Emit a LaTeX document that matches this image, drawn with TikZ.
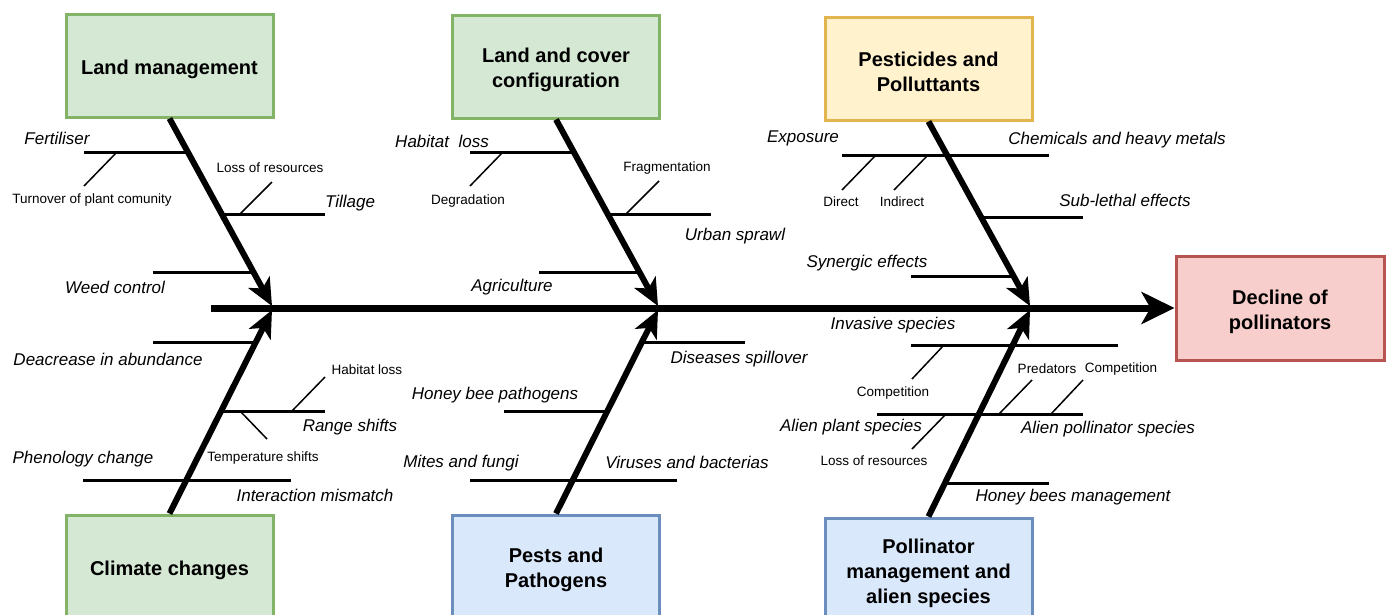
\documentclass[tikz,border=0pt]{standalone}
\usepackage{fontspec}
\setmainfont{Liberation Sans}
\usetikzlibrary{arrows.meta}
\definecolor{gfill}{HTML}{D5E8D4}
\definecolor{gline}{HTML}{82B366}
\definecolor{yfill}{HTML}{FFF2CC}
\definecolor{yline}{HTML}{E3B54E}
\definecolor{bfill}{HTML}{DAE8FC}
\definecolor{bline}{HTML}{6C8EBF}
\definecolor{rfill}{HTML}{F8CECC}
\definecolor{rline}{HTML}{B85450}
\begin{document}
\begin{tikzpicture}[x=1pt,y=-1pt,
  cause/.style={draw, line width=3pt, minimum width=207pt, minimum height=103pt, inner sep=0pt},
  ctext/.style={inner sep=0pt, align=center, font=\fontsize{20}{25}\selectfont\bfseries},
  lab/.style={inner sep=0pt, font=\fontsize{17}{20}\selectfont\itshape},
  sml/.style={inner sep=0pt, font=\fontsize{13.5}{16}\selectfont},
  br/.style={line width=3pt},
  tw/.style={line width=1.5pt},
  bone/.style={line width=6pt, -{Stealth[length=27pt, width=24pt, inset=7pt]}},
  spine/.style={line width=7pt, -{Stealth[length=33pt, width=32pt, inset=9pt]}}]
\useasboundingbox (0,0) rectangle (1392,614);
\clip (0,0) rectangle (1392,614);
\fill[white] (0,0) rectangle (1392,614);

% boxes
\node[cause, fill=gfill, draw=gline] (lm) at (169.5,65.5) {};
\node[cause, fill=gfill, draw=gline] (lc) at (556,66.5) {};
\node[cause, fill=yfill, draw=yline] (pp) at (928.5,68.5) {};
\node[cause, fill=gfill, draw=gline] (cc) at (169.5,566.5) {};
\node[cause, fill=bfill, draw=bline] (pa) at (556,566.5) {};
\node[cause, fill=bfill, draw=bline] (pm) at (928.5,569.5) {};
\node[cause, fill=rfill, draw=rline, minimum width=208pt, minimum height=104pt] (dec) at (1280,308) {};
\node[ctext] (lmt) at ([yshift=-3.5pt]lm.center) {Land management};
\node[ctext] (lct) at ([yshift=-3.5pt]lc.center) {Land and cover\\configuration};
\node[ctext] (ppt) at ([yshift=-3.5pt]pp.center) {Pesticides and\\Polluttants};
\node[ctext] (cct) at ([yshift=-3.5pt]cc.center) {Climate changes};
\node[ctext] (pat) at ([yshift=-3.5pt]pa.center) {Pests and\\Pathogens};
\node[ctext] (pmt) at ([yshift=-3.5pt]pm.center) {Pollinator\\management and\\alien species};
\node[ctext] (dect) at ([yshift=-3.5pt]dec.center) {Decline of\\pollinators};

% spine
\coordinate (s0) at (211,308);
\draw[spine] (s0) -- (dec.west);

% bone tips
\coordinate (tA) at (272,306);
\coordinate (tB) at (658,306);
\coordinate (tC) at (1030,306);
\coordinate (tD) at (272,310);
\coordinate (tE) at (658,310);
\coordinate (tF) at (1030,310);

% ---- top-left branches
\coordinate (a1) at (84,152);    \coordinate (a2) at (188.9,152);
\coordinate (a3) at (117,152);   \coordinate (a4) at (84,186);
\coordinate (a5) at (222.3,214); \coordinate (a6) at (325,214);
\coordinate (a7) at (240,214);   \coordinate (a8) at (272,182);
\coordinate (a9) at (153,272);   \coordinate (a10) at (253.7,272);
\draw[br] (a1) -- (a2); \draw[tw] (a3) -- (a4);
\draw[br] (a5) -- (a6); \draw[tw] (a7) -- (a8);
\draw[br] (a9) -- (a10);
\node[lab] (la1) at (57,138) {Fertiliser};
\node[sml] (la2) at (92,200) {Turnover of plant comunity};
\node[sml] (la3) at (270,168) {Loss of resources};
\node[lab] (la4) at (350,203) {Tillage};
\node[lab] (la5) at (115,287) {Weed control};

% ---- top-middle branches
\coordinate (b1) at (470,152);   \coordinate (b2) at (574,152);
\coordinate (b3) at (503,152);   \coordinate (b4) at (470,186);
\coordinate (b5) at (607.8,214); \coordinate (b6) at (711,214);
\coordinate (b7) at (626,214);   \coordinate (b8) at (659,181);
\coordinate (b9) at (539,272);   \coordinate (b10) at (639.5,272);
\draw[br] (b1) -- (b2); \draw[tw] (b3) -- (b4);
\draw[br] (b5) -- (b6); \draw[tw] (b7) -- (b8);
\draw[br] (b9) -- (b10);
\node[lab] (lb1) at (442,141) {Habitat\ \ loss};
\node[sml] (lb2) at (468,201) {Degradation};
\node[sml] (lb3) at (667,168) {Fragmentation};
\node[lab] (lb4) at (735,236) {Urban sprawl};
\node[lab] (lb5) at (512,287) {Agriculture};

% ---- top-right branches
\coordinate (c1) at (842,155);   \coordinate (c2) at (1049,155);
\coordinate (c3) at (876,155);   \coordinate (c4) at (842,190);
\coordinate (c5) at (928,155);   \coordinate (c6) at (894,190);
\coordinate (c7) at (981,217);   \coordinate (c8) at (1083,217);
\coordinate (c9) at (911,276);   \coordinate (c10) at (1013.5,276);
\draw[br] (c1) -- (c2); \draw[tw] (c3) -- (c4); \draw[tw] (c5) -- (c6);
\draw[br] (c7) -- (c8);
\draw[br] (c9) -- (c10);
\node[lab] (lc1) at (803,138) {Exposure};
\node[lab] (lc2) at (1117,140) {Chemicals and heavy metals};
\node[sml] (lc3) at (841,202) {Direct};
\node[sml] (lc4) at (902,202) {Indirect};
\node[lab] (lc5) at (1125,200) {Sub-lethal effects};
\node[lab] (lc6) at (867,263) {Synergic effects};

% ---- bottom-left branches
\coordinate (d1) at (153,342);   \coordinate (d2) at (256,342);
\coordinate (d3) at (222,411);   \coordinate (d4) at (325,411);
\coordinate (d5) at (292,411);   \coordinate (d6) at (325,377);
\coordinate (d7) at (241,412);   \coordinate (d8) at (267,439);
\coordinate (d9) at (83,480);    \coordinate (d10) at (291,480);
\draw[br] (d1) -- (d2);
\draw[br] (d3) -- (d4); \draw[tw] (d5) -- (d6); \draw[tw] (d7) -- (d8);
\draw[br] (d9) -- (d10);
\node[lab] (ld1) at (108,359) {Deacrease in abundance};
\node[sml] (ld2) at (367,370) {Habitat loss};
\node[lab] (ld3) at (350,427) {Range shifts};
\node[sml] (ld4) at (263,458) {Temperature shifts};
\node[lab] (ld5) at (83,459) {Phenology change};
\node[lab] (ld6) at (315,495) {Interaction mismatch};

% ---- bottom-middle branches
\coordinate (e1) at (642,342);   \coordinate (e2) at (745,342);
\coordinate (e3) at (504,411);   \coordinate (e4) at (608,411);
\coordinate (e5) at (470,480);   \coordinate (e6) at (677,480);
\draw[br] (e1) -- (e2);
\draw[br] (e3) -- (e4);
\draw[br] (e5) -- (e6);
\node[lab] (le1) at (739,359) {Diseases spillover};
\node[lab] (le2) at (495,395) {Honey bee pathogens};
\node[lab] (le3) at (461,463) {Mites and fungi};
\node[lab] (le4) at (687,462) {Viruses and bacterias};

% ---- bottom-right branches
\coordinate (f1) at (911,345);   \coordinate (f2) at (1118,345);
\coordinate (f3) at (944,345);   \coordinate (f4) at (912,379);
\coordinate (f5) at (877,414);   \coordinate (f6) at (1083,414);
\coordinate (f7) at (946,414);   \coordinate (f8) at (912,449);
\coordinate (f9) at (999,414);   \coordinate (f10) at (1032,380);
\coordinate (f11) at (1051,414); \coordinate (f12) at (1083,380);
\coordinate (f13) at (945.6,483); \coordinate (f14) at (1049,483);
\draw[br] (f1) -- (f2); \draw[tw] (f3) -- (f4);
\draw[br] (f5) -- (f6); \draw[tw] (f7) -- (f8); \draw[tw] (f9) -- (f10); \draw[tw] (f11) -- (f12);
\draw[br] (f13) -- (f14);
\node[lab] (lf1) at (893,325) {Invasive species};
\node[sml] (lf2) at (893,393) {Competition};
\node[lab] (lf3) at (851,427) {Alien plant species};
\node[sml] (lf4) at (874,461) {Loss of resources};
\node[sml] (lf5) at (1047,369) {Predators};
\node[sml] (lf6) at (1121,369) {Competition};
\node[lab] (lf7) at (1108,429) {Alien pollinator species};
\node[lab] (lf8) at (1073,497) {Honey bees management};

% bones
\draw[bone] (lm.south) -- (tA);
\draw[bone] (lc.south) -- (tB);
\draw[bone] (pp.south) -- (tC);
\draw[bone] (cc.north) -- (tD);
\draw[bone] (pa.north) -- (tE);
\draw[bone] (pm.north) -- (tF);
\end{tikzpicture}
\end{document}
